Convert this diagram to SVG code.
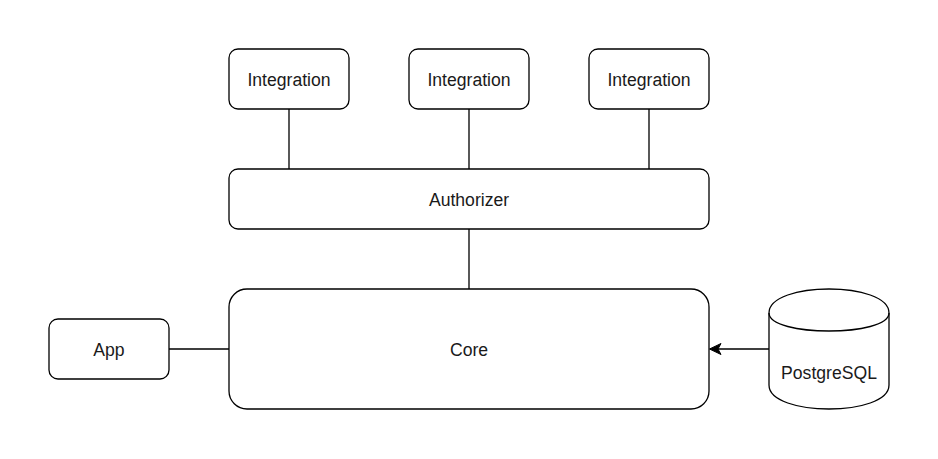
<svg xmlns="http://www.w3.org/2000/svg" width="938" height="459" viewBox="0 0 938 459">
<style>
.n{fill:#fff;stroke:#000;stroke-width:1.3}
.t{font-family:"Liberation Sans",Arial,sans-serif;font-size:17.6px;fill:#1a1a1a;text-anchor:middle}
.c{stroke:#000;stroke-width:1.3;fill:none}
</style>
<rect width="938" height="459" fill="#fff"/>
<g id="connectors">
<path class="c" d="M289,109V169M469,109V169M649,109V169M469,229V289M169,349H229M769,349H716"/>
<polygon points="709.5,349 721,343.5 718,349 721,354.5" fill="#000" stroke="#000" stroke-width="1"/>
</g>
<g id="integration1"><rect class="n" x="229" y="49" width="120" height="60" rx="9"/><text class="t" x="289" y="85.5">Integration</text></g>
<g id="integration2"><rect class="n" x="409" y="49" width="120" height="60" rx="9"/><text class="t" x="469" y="85.5">Integration</text></g>
<g id="integration3"><rect class="n" x="589" y="49" width="120" height="60" rx="9"/><text class="t" x="649" y="85.5">Integration</text></g>
<g id="authorizer"><rect class="n" x="229" y="169" width="480" height="60" rx="9"/><text class="t" x="469" y="205.5">Authorizer</text></g>
<g id="core"><rect class="n" x="229" y="289" width="480" height="120" rx="18"/><text class="t" x="469" y="355.5">Core</text></g>
<g id="app"><rect class="n" x="49" y="319" width="120" height="60" rx="9"/><text class="t" x="109" y="355.5">App</text></g>
<g id="postgresql">
<path class="n" d="M769,313C769,281 889,281 889,313V385C889,417 769,417 769,385Z"/>
<path class="c" d="M769,313C769,337 889,337 889,313"/>
<text class="t" x="829" y="379">PostgreSQL</text>
</g>
</svg>
